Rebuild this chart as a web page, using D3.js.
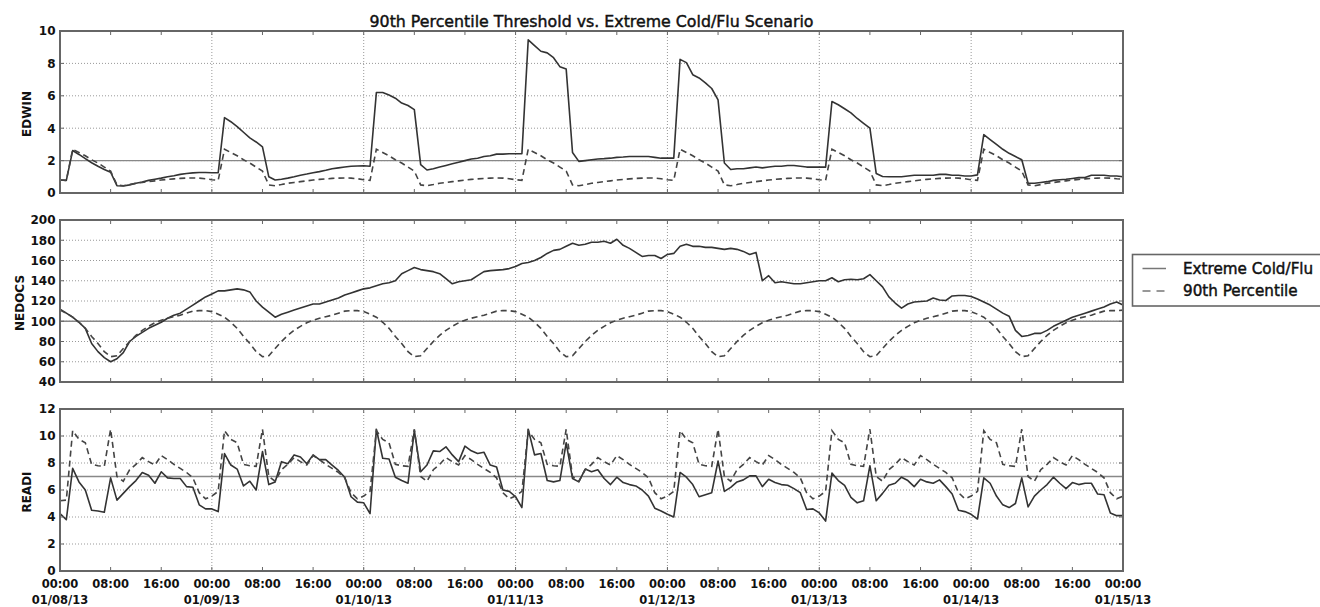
<!DOCTYPE html>
<html>
<head>
<meta charset="utf-8">
<script src="https://cdn.jsdelivr.net/npm/d3@7"></script>
<style>
    body { margin: 0; background: #fff; }
    svg { display: block; }
    text { font-family: "DejaVu Sans", sans-serif; fill: #111; }
</style>
</head>
<body>
<div id="chart"></div>
<script>
/////////////////////
// chart data      //
/////////////////////

// hourly readings, 01/08/13 00:00 .. 01/15/13 00:00 (169 points)
let startDate = new Date(2013, 0, 8)
let endDate = new Date(2013, 0, 15)

let edwinCold = [
    0.8, 0.78, 2.62, 2.38, 2.12, 1.87, 1.65, 1.45, 1.28, 0.45,
    0.43, 0.5, 0.6, 0.68, 0.78, 0.85, 0.92, 1.0, 1.07, 1.15,
    1.2, 1.24, 1.27, 1.27, 1.25, 1.25, 4.65, 4.4, 4.1, 3.75,
    3.4, 3.15, 2.85, 1.0, 0.8, 0.85, 0.92, 1.0, 1.1, 1.17,
    1.25, 1.32, 1.4, 1.5, 1.55, 1.6, 1.65, 1.67, 1.68, 1.65,
    6.2, 6.2, 6.05, 5.85, 5.55, 5.4, 5.15, 1.75, 1.42, 1.5,
    1.6, 1.7, 1.8, 1.9, 2.0, 2.1, 2.15, 2.25, 2.3, 2.4,
    2.4, 2.42, 2.42, 2.42, 9.45, 9.1, 8.75, 8.65, 8.35, 7.8,
    7.65, 2.5, 1.95, 2.0, 2.05, 2.1, 2.12, 2.15, 2.2, 2.22,
    2.25, 2.25, 2.25, 2.25, 2.2, 2.15, 2.15, 2.15, 8.25, 8.05,
    7.3, 7.1, 6.8, 6.45, 5.75, 1.85, 1.45, 1.5, 1.5, 1.55,
    1.6, 1.55, 1.6, 1.65, 1.65, 1.7, 1.7, 1.65, 1.6, 1.6,
    1.6, 1.6, 5.65, 5.45, 5.2, 4.95, 4.6, 4.3, 4.0, 1.2,
    1.02, 1.0, 1.0, 1.0, 1.05, 1.1, 1.1, 1.1, 1.1, 1.15,
    1.15, 1.1, 1.1, 1.05, 1.05, 1.12, 3.6, 3.3, 3.0, 2.7,
    2.45, 2.25, 2.05, 0.6, 0.6, 0.65, 0.7, 0.78, 0.82, 0.85,
    0.9, 0.95, 0.95, 1.1, 1.1, 1.1, 1.05, 1.05, 1.0
]

let edwinP90 = [
    0.8, 0.78, 2.7, 2.5, 2.3, 2.05, 1.85, 1.6, 1.35, 0.5, 0.45, 0.52, 0.6, 0.65, 0.7, 0.75, 0.8, 0.84, 0.87, 0.9, 0.92, 0.93, 0.92, 0.88,
    0.82, 0.78, 2.7, 2.5, 2.3, 2.05, 1.85, 1.6, 1.35, 0.5, 0.45, 0.52, 0.6, 0.65, 0.7, 0.75, 0.8, 0.84, 0.87, 0.9, 0.92, 0.93, 0.92, 0.88,
    0.82, 0.78, 2.7, 2.5, 2.3, 2.05, 1.85, 1.6, 1.35, 0.5, 0.45, 0.52, 0.6, 0.65, 0.7, 0.75, 0.8, 0.84, 0.87, 0.9, 0.92, 0.93, 0.92, 0.88,
    0.82, 0.78, 2.7, 2.5, 2.3, 2.05, 1.85, 1.6, 1.35, 0.5, 0.45, 0.52, 0.6, 0.65, 0.7, 0.75, 0.8, 0.84, 0.87, 0.9, 0.92, 0.93, 0.92, 0.88,
    0.82, 0.78, 2.7, 2.5, 2.3, 2.05, 1.85, 1.6, 1.35, 0.5, 0.45, 0.52, 0.6, 0.65, 0.7, 0.75, 0.8, 0.84, 0.87, 0.9, 0.92, 0.93, 0.92, 0.88,
    0.82, 0.78, 2.7, 2.5, 2.3, 2.05, 1.85, 1.6, 1.35, 0.5, 0.45, 0.52, 0.6, 0.65, 0.7, 0.75, 0.8, 0.84, 0.87, 0.9, 0.92, 0.93, 0.92, 0.88,
    0.82, 0.78, 2.7, 2.5, 2.3, 2.05, 1.85, 1.6, 1.35, 0.5, 0.45, 0.52, 0.6, 0.65, 0.7, 0.75, 0.8, 0.84, 0.87, 0.9, 0.92, 0.93, 0.92, 0.88,
    0.85
]

let nedocsCold = [
    112, 108, 104, 99, 93, 78, 70, 64, 60, 63,
    69, 80, 85, 89, 93, 96, 99, 103, 106, 108,
    112, 116, 120, 124, 127, 130, 130, 131, 132, 131,
    129, 120, 114, 109, 104, 107, 109, 111, 113, 115,
    117, 117, 119, 121, 123, 126, 128, 130, 132, 133,
    135, 137, 138, 140, 147, 150, 153, 151, 150, 149,
    147, 142, 137, 139, 140, 141, 145, 149, 150, 150.5,
    151, 152, 154, 157, 158, 160, 163, 167, 170, 171,
    174, 177, 175, 176, 178, 178, 179, 177, 181, 175,
    172, 168, 164, 165, 165, 162, 166, 167, 174, 176,
    174, 174, 173, 173, 172, 171, 172, 171, 169, 166,
    168, 140, 145, 138, 139, 138, 137, 137, 138, 139,
    140, 140, 143, 139, 141, 141.5, 141, 142, 146, 140,
    134, 124, 118, 113, 117, 119, 119.5, 120, 123, 121,
    120.5, 125, 125.5, 125.5, 124.5, 122, 119, 116, 112, 108,
    105, 91, 85, 86, 88, 88, 91, 95, 98, 101,
    104, 106, 108, 110, 112, 114, 117, 119, 116
]

let nedocsP90 = [
    111, 108, 104, 99, 93, 85, 78, 70, 65, 66, 73, 80, 86, 91, 95, 98.5, 101, 103, 104.5, 106, 108, 110, 110.5, 110.5,
    109.5, 107, 104, 99, 93, 85, 78, 70, 65, 66, 73, 80, 86, 91, 95, 98.5, 101, 103, 104.5, 106, 108, 110, 110.5, 110.5,
    109.5, 107, 104, 99, 93, 85, 78, 70, 65, 66, 73, 80, 86, 91, 95, 98.5, 101, 103, 104.5, 106, 108, 110, 110.5, 110.5,
    109.5, 107, 104, 99, 93, 85, 78, 70, 65, 66, 73, 80, 86, 91, 95, 98.5, 101, 103, 104.5, 106, 108, 110, 110.5, 110.5,
    109.5, 107, 104, 99, 93, 85, 78, 70, 65, 66, 73, 80, 86, 91, 95, 98.5, 101, 103, 104.5, 106, 108, 110, 110.5, 110.5,
    109.5, 107, 104, 99, 93, 85, 78, 70, 65, 66, 73, 80, 86, 91, 95, 98.5, 101, 103, 104.5, 106, 108, 110, 110.5, 110.5,
    109.5, 107, 104, 99, 93, 85, 78, 70, 65, 66, 73, 80, 86, 91, 95, 98.5, 101, 103, 104.5, 106, 108, 110, 110.5, 110.5,
    111
]

let readiCold = [
    4.25, 3.8, 7.6, 6.6, 6.0, 4.5, 4.45, 4.35, 6.9, 5.25,
    5.75, 6.25, 6.7, 7.3, 7.1, 6.5, 7.35, 6.9, 6.85, 6.85,
    6.25, 6.2, 4.9, 4.6, 4.6, 4.4, 8.7, 7.85, 7.55, 6.3,
    6.65, 6.0, 8.85, 6.4, 6.6, 8.1, 7.95, 8.6, 8.45, 7.95,
    8.6, 8.25, 8.25, 7.85, 7.45, 6.95, 5.5, 5.1, 5.05, 4.25,
    10.5, 8.35, 8.3, 6.95, 6.7, 6.5, 10.4, 7.35, 7.85, 8.9,
    8.85, 9.2, 8.6, 8.1, 9.25, 8.9, 8.7, 8.8, 7.85, 7.7,
    6.0, 5.9, 5.5, 4.7, 10.5, 8.6, 8.7, 6.7, 6.6, 6.7,
    9.5, 6.85, 6.6, 7.55, 7.35, 7.5, 6.85, 6.4, 6.95, 6.55,
    6.4, 6.3, 6.0, 5.55, 4.65, 4.45, 4.2, 4.0, 7.3, 6.95,
    6.4, 5.5, 5.65, 5.8, 8.15, 5.9, 6.2, 6.6, 6.75, 7.05,
    7.05, 6.25, 6.8, 6.55, 6.4, 6.35, 6.1, 5.8, 4.55, 4.6,
    4.3, 3.7, 7.25, 6.7, 6.35, 5.45, 5.05, 5.2, 7.8, 5.2,
    5.75, 6.35, 6.5, 6.95, 6.7, 6.25, 6.8, 6.6, 6.5, 6.75,
    6.25, 5.7, 4.5, 4.4, 4.2, 3.85, 6.9, 6.5, 5.55, 4.9,
    4.7, 5.0, 6.9, 4.75, 5.55, 6.0, 6.4, 6.95, 6.5, 6.1,
    6.55, 6.4, 6.5, 6.5, 5.7, 5.65, 4.3, 4.1, 4.1
]

let readiP90 = [
    5.2, 5.25, 10.4, 9.75, 9.5, 7.9, 7.8, 7.75, 10.5, 7.0, 6.65, 7.5, 7.9, 8.4, 8.1, 7.85, 8.55, 8.25, 7.9, 7.6, 7.3, 6.9, 5.8, 5.35,
    5.55, 5.9, 10.4, 9.75, 9.5, 7.9, 7.8, 7.75, 10.5, 7.0, 6.65, 7.5, 7.9, 8.4, 8.1, 7.85, 8.55, 8.25, 7.9, 7.6, 7.3, 6.9, 5.8, 5.35,
    5.55, 5.9, 10.4, 9.75, 9.5, 7.9, 7.8, 7.75, 10.5, 7.0, 6.65, 7.5, 7.9, 8.4, 8.1, 7.85, 8.55, 8.25, 7.9, 7.6, 7.3, 6.9, 5.8, 5.35,
    5.55, 5.9, 10.4, 9.75, 9.5, 7.9, 7.8, 7.75, 10.5, 7.0, 6.65, 7.5, 7.9, 8.4, 8.1, 7.85, 8.55, 8.25, 7.9, 7.6, 7.3, 6.9, 5.8, 5.35,
    5.55, 5.9, 10.4, 9.75, 9.5, 7.9, 7.8, 7.75, 10.5, 7.0, 6.65, 7.5, 7.9, 8.4, 8.1, 7.85, 8.55, 8.25, 7.9, 7.6, 7.3, 6.9, 5.8, 5.35,
    5.55, 5.9, 10.4, 9.75, 9.5, 7.9, 7.8, 7.75, 10.5, 7.0, 6.65, 7.5, 7.9, 8.4, 8.1, 7.85, 8.55, 8.25, 7.9, 7.6, 7.3, 6.9, 5.8, 5.35,
    5.55, 5.9, 10.4, 9.75, 9.5, 7.9, 7.8, 7.75, 10.5, 7.0, 6.65, 7.5, 7.9, 8.4, 8.1, 7.85, 8.55, 8.25, 7.9, 7.6, 7.3, 6.9, 5.8, 5.35,
    5.55
]

let edwinTicks = [0, 2, 4, 6, 8, 10]
let nedocsTicks = [40, 60, 80, 100, 120, 140, 160, 180, 200]
let readiTicks = [0, 2, 4, 6, 8, 10, 12]

let edwinThreshold = 2
let nedocsThreshold = 100
let readiThreshold = 7

let seriesNames = ["Extreme Cold/Flu", "90th Percentile"]
let chartTitle = "90th Percentile Threshold vs. Extreme Cold/Flu Scenario"

/////////////////////
// drawing         //
/////////////////////

let width = 1320, height = 607
let left = 60, right = 1123
let panelH = 162
let panelTops = [31, 220, 409]

let svg = d3.select("#chart").append("svg")
    .attr("width", width)
    .attr("height", height)

let x = d3.scaleTime().domain([startDate, endDate]).range([left, right])
let times = edwinCold.map(function(d, i) { return d3.timeHour.offset(startDate, i) })
let hourTicks = x.ticks(d3.timeHour.every(8))
let dayTicks = x.ticks(d3.timeDay.every(1))

let panels = [
    { label: "EDWIN", cold: edwinCold, p90: edwinP90, ticks: edwinTicks, threshold: edwinThreshold },
    { label: "NEDOCS", cold: nedocsCold, p90: nedocsP90, ticks: nedocsTicks, threshold: nedocsThreshold },
    { label: "READI", cold: readiCold, p90: readiP90, ticks: readiTicks, threshold: readiThreshold }
]

let lineColor = "#333"
let dashColor = "#444"
let dashPattern = "6,4"
let frameColor = "#666"

panels.forEach(function(p, pi) {
    let top = panelTops[pi], bottom = top + panelH
    let y = d3.scaleLinear()
        .domain([p.ticks[0], p.ticks[p.ticks.length - 1]])
        .range([bottom, top])

    let g = svg.append("g")

    // dotted grid
    g.selectAll(".hgrid")
        .data(p.ticks.slice(1, -1))
        .enter().append("line")
        .attr("x1", left).attr("x2", right)
        .attr("y1", function(d) { return y(d) }).attr("y2", function(d) { return y(d) })
        .attr("stroke", "#999").attr("stroke-width", 1)
        .attr("stroke-dasharray", "1,2")

    g.selectAll(".vgrid")
        .data(dayTicks.slice(1, -1))
        .enter().append("line")
        .attr("x1", function(d) { return x(d) }).attr("x2", function(d) { return x(d) })
        .attr("y1", top).attr("y2", bottom)
        .attr("stroke", "#999").attr("stroke-width", 1)
        .attr("stroke-dasharray", "1,2")

    // threshold line
    g.append("line")
        .attr("x1", left).attr("x2", right)
        .attr("y1", y(p.threshold)).attr("y2", y(p.threshold))
        .attr("stroke", "#888").attr("stroke-width", 1.4)

    let line = d3.line()
        .x(function(d, i) { return x(times[i]) })
        .y(function(d) { return y(d) })

    g.append("path")
        .datum(p.cold)
        .attr("fill", "none")
        .attr("stroke", lineColor)
        .attr("stroke-width", 1.6)
        .attr("stroke-linejoin", "round")
        .attr("d", line)

    g.append("path")
        .datum(p.p90)
        .attr("fill", "none")
        .attr("stroke", dashColor)
        .attr("stroke-width", 1.6)
        .attr("stroke-dasharray", dashPattern)
        .attr("d", line)

    // tick marks, pointing inwards
    let tickLen = 4
    g.selectAll(".ytickL")
        .data(p.ticks)
        .enter().append("line")
        .attr("x1", left).attr("x2", left + tickLen)
        .attr("y1", function(d) { return y(d) }).attr("y2", function(d) { return y(d) })
        .attr("stroke", frameColor)
    g.selectAll(".ytickR")
        .data(p.ticks)
        .enter().append("line")
        .attr("x1", right - tickLen).attr("x2", right)
        .attr("y1", function(d) { return y(d) }).attr("y2", function(d) { return y(d) })
        .attr("stroke", frameColor)
    g.selectAll(".xtickB")
        .data(hourTicks)
        .enter().append("line")
        .attr("x1", function(d) { return x(d) }).attr("x2", function(d) { return x(d) })
        .attr("y1", bottom).attr("y2", bottom - tickLen)
        .attr("stroke", frameColor)
    g.selectAll(".xtickT")
        .data(hourTicks)
        .enter().append("line")
        .attr("x1", function(d) { return x(d) }).attr("x2", function(d) { return x(d) })
        .attr("y1", top).attr("y2", top + tickLen)
        .attr("stroke", frameColor)

    // frame
    g.append("rect")
        .attr("x", left).attr("y", top)
        .attr("width", right - left).attr("height", panelH)
        .attr("fill", "none")
        .attr("stroke", frameColor)
        .attr("stroke-width", 2)

    // y tick labels
    g.selectAll(".ylab")
        .data(p.ticks)
        .enter().append("text")
        .attr("x", 55.5)
        .attr("y", function(d) { return y(d) })
        .attr("dy", "0.36em")
        .attr("text-anchor", "end")
        .style("font-size", "12px")
        .style("font-weight", "bold")
        .text(function(d) { return d })

    // y axis label
    let labelX = p.label == "NEDOCS" ? 24 : 30.5
    g.append("text")
        .attr("transform", "translate(" + labelX + "," + ((top + bottom) / 2 + 2) + ")rotate(-90)")
        .attr("text-anchor", "middle")
        .style("font-size", "12px")
        .style("font-weight", "bold")
        .text(p.label)

    // x tick labels on the bottom panel only
    if (pi == panels.length - 1) {
        let fmtTime = d3.timeFormat("%H:%M")
        let fmtDate = d3.timeFormat("%m/%d/%y")
        g.selectAll(".xlab")
            .data(hourTicks)
            .enter().append("text")
            .attr("x", function(d) { return x(d) })
            .attr("y", 587.5)
            .attr("text-anchor", "middle")
            .style("font-size", "11.5px")
            .style("font-weight", "bold")
            .text(function(d) { return fmtTime(d) })
        g.selectAll(".xdate")
            .data(dayTicks)
            .enter().append("text")
            .attr("x", function(d) { return x(d) })
            .attr("y", 603.5)
            .attr("text-anchor", "middle")
            .style("font-size", "11.5px")
            .style("font-weight", "bold")
            .text(function(d) { return fmtDate(d) })
    }
})

// title
svg.append("text")
    .attr("x", (left + right) / 2)
    .attr("y", 26.5)
    .attr("text-anchor", "middle")
    .style("font-size", "15.8px")
    .attr("stroke", "#111")
    .attr("stroke-width", 0.45)
    .text(chartTitle)

// legend
let legend = svg.append("g")
legend.append("rect")
    .attr("x", 1132.5).attr("y", 254.5)
    .attr("width", 220).attr("height", 51.5)
    .attr("fill", "#fff")
    .attr("stroke", frameColor)
    .attr("stroke-width", 1.6)

let legendRows = [
    { name: seriesNames[0], dash: null, y: 268.5 },
    { name: seriesNames[1], dash: "8,6", y: 291 }
]
legendRows.forEach(function(r) {
    legend.append("line")
        .attr("x1", 1142.5).attr("x2", 1166)
        .attr("y1", r.y).attr("y2", r.y)
        .attr("stroke", "#777")
        .attr("stroke-width", 1.5)
        .attr("stroke-dasharray", r.dash)
    legend.append("text")
        .attr("x", 1183)
        .attr("y", r.y + 5.3)
        .style("font-size", "15.2px")
        .attr("stroke", "#111")
        .attr("stroke-width", 0.45)
        .text(r.name)
})
</script>
</body>
</html>
